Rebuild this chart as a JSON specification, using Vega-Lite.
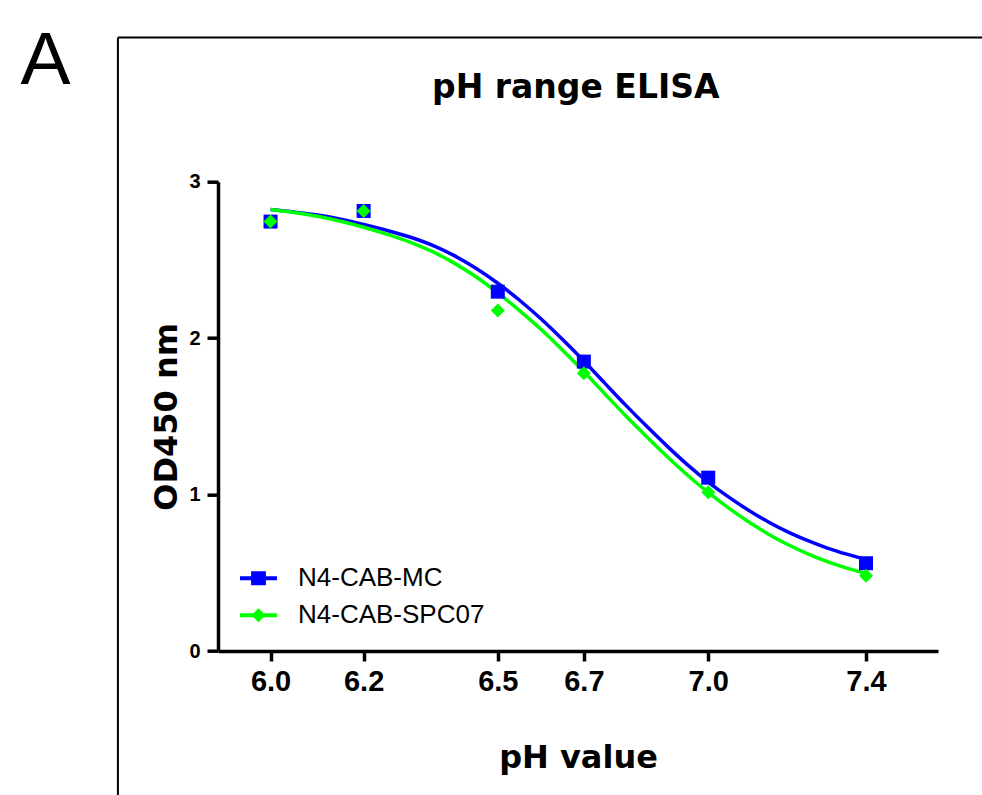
{
  "$schema": "https://vega.github.io/schema/vega-lite/v6.json",
  "width": 720,
  "height": 469.3,
  "autosize": {"type": "none"},
  "padding": {"left": 218, "top": 181.7, "right": 44, "bottom": 144},
  "background": "white",
  "config": {
    "view": {"stroke": null},
    "font": "Liberation Sans",
    "axis": {"domainColor": "black", "tickColor": "black", "labelColor": "black", "titleColor": "black", "grid": false}
  },
  "datasets": {
    "curves": [
      {"series": "N4-CAB-MC", "ph": 6.00, "od": 2.822},
      {"series": "N4-CAB-MC", "ph": 6.05, "od": 2.806},
      {"series": "N4-CAB-MC", "ph": 6.10, "od": 2.787},
      {"series": "N4-CAB-MC", "ph": 6.15, "od": 2.760},
      {"series": "N4-CAB-MC", "ph": 6.20, "od": 2.727},
      {"series": "N4-CAB-MC", "ph": 6.25, "od": 2.690},
      {"series": "N4-CAB-MC", "ph": 6.30, "od": 2.648},
      {"series": "N4-CAB-MC", "ph": 6.35, "od": 2.596},
      {"series": "N4-CAB-MC", "ph": 6.40, "od": 2.529},
      {"series": "N4-CAB-MC", "ph": 6.45, "od": 2.447},
      {"series": "N4-CAB-MC", "ph": 6.50, "od": 2.351},
      {"series": "N4-CAB-MC", "ph": 6.55, "od": 2.242},
      {"series": "N4-CAB-MC", "ph": 6.60, "od": 2.122},
      {"series": "N4-CAB-MC", "ph": 6.65, "od": 1.991},
      {"series": "N4-CAB-MC", "ph": 6.70, "od": 1.854},
      {"series": "N4-CAB-MC", "ph": 6.75, "od": 1.711},
      {"series": "N4-CAB-MC", "ph": 6.80, "od": 1.570},
      {"series": "N4-CAB-MC", "ph": 6.85, "od": 1.436},
      {"series": "N4-CAB-MC", "ph": 6.90, "od": 1.308},
      {"series": "N4-CAB-MC", "ph": 6.95, "od": 1.188},
      {"series": "N4-CAB-MC", "ph": 7.00, "od": 1.080},
      {"series": "N4-CAB-MC", "ph": 7.05, "od": 0.985},
      {"series": "N4-CAB-MC", "ph": 7.10, "od": 0.900},
      {"series": "N4-CAB-MC", "ph": 7.15, "od": 0.825},
      {"series": "N4-CAB-MC", "ph": 7.20, "od": 0.760},
      {"series": "N4-CAB-MC", "ph": 7.25, "od": 0.705},
      {"series": "N4-CAB-MC", "ph": 7.30, "od": 0.658},
      {"series": "N4-CAB-MC", "ph": 7.35, "od": 0.619},
      {"series": "N4-CAB-MC", "ph": 7.40, "od": 0.585},
      {"series": "N4-CAB-SPC07", "ph": 6.00, "od": 2.822},
      {"series": "N4-CAB-SPC07", "ph": 6.05, "od": 2.803},
      {"series": "N4-CAB-SPC07", "ph": 6.10, "od": 2.779},
      {"series": "N4-CAB-SPC07", "ph": 6.15, "od": 2.747},
      {"series": "N4-CAB-SPC07", "ph": 6.20, "od": 2.709},
      {"series": "N4-CAB-SPC07", "ph": 6.25, "od": 2.665},
      {"series": "N4-CAB-SPC07", "ph": 6.30, "od": 2.616},
      {"series": "N4-CAB-SPC07", "ph": 6.35, "od": 2.556},
      {"series": "N4-CAB-SPC07", "ph": 6.40, "od": 2.481},
      {"series": "N4-CAB-SPC07", "ph": 6.45, "od": 2.392},
      {"series": "N4-CAB-SPC07", "ph": 6.50, "od": 2.289},
      {"series": "N4-CAB-SPC07", "ph": 6.55, "od": 2.176},
      {"series": "N4-CAB-SPC07", "ph": 6.60, "od": 2.055},
      {"series": "N4-CAB-SPC07", "ph": 6.65, "od": 1.923},
      {"series": "N4-CAB-SPC07", "ph": 6.70, "od": 1.786},
      {"series": "N4-CAB-SPC07", "ph": 6.75, "od": 1.643},
      {"series": "N4-CAB-SPC07", "ph": 6.80, "od": 1.502},
      {"series": "N4-CAB-SPC07", "ph": 6.85, "od": 1.370},
      {"series": "N4-CAB-SPC07", "ph": 6.90, "od": 1.242},
      {"series": "N4-CAB-SPC07", "ph": 6.95, "od": 1.122},
      {"series": "N4-CAB-SPC07", "ph": 7.00, "od": 1.014},
      {"series": "N4-CAB-SPC07", "ph": 7.05, "od": 0.915},
      {"series": "N4-CAB-SPC07", "ph": 7.10, "od": 0.826},
      {"series": "N4-CAB-SPC07", "ph": 7.15, "od": 0.747},
      {"series": "N4-CAB-SPC07", "ph": 7.20, "od": 0.679},
      {"series": "N4-CAB-SPC07", "ph": 7.25, "od": 0.621},
      {"series": "N4-CAB-SPC07", "ph": 7.30, "od": 0.571},
      {"series": "N4-CAB-SPC07", "ph": 7.35, "od": 0.530},
      {"series": "N4-CAB-SPC07", "ph": 7.40, "od": 0.495}
    ],
    "points": [
      {"series": "N4-CAB-MC", "ph": 6.0, "od": 2.745},
      {"series": "N4-CAB-MC", "ph": 6.2, "od": 2.813},
      {"series": "N4-CAB-MC", "ph": 6.5, "od": 2.297},
      {"series": "N4-CAB-MC", "ph": 6.7, "od": 1.850},
      {"series": "N4-CAB-MC", "ph": 7.0, "od": 1.108},
      {"series": "N4-CAB-MC", "ph": 7.4, "od": 0.561},
      {"series": "N4-CAB-SPC07", "ph": 6.0, "od": 2.745},
      {"series": "N4-CAB-SPC07", "ph": 6.2, "od": 2.813},
      {"series": "N4-CAB-SPC07", "ph": 6.5, "od": 2.176},
      {"series": "N4-CAB-SPC07", "ph": 6.7, "od": 1.776},
      {"series": "N4-CAB-SPC07", "ph": 7.0, "od": 1.015},
      {"series": "N4-CAB-SPC07", "ph": 7.4, "od": 0.481}
    ]
  },
  "layer": [
    {
      "data": {"values": [{}]},
      "mark": {"type": "rule", "color": "black", "strokeWidth": 2, "clip": false},
      "encoding": {
        "x": {"datum": 5.686, "type": "quantitative"},
        "y": {"datum": 3.921, "type": "quantitative"},
        "y2": {"datum": -1.5}
      }
    },
    {
      "data": {"values": [{}]},
      "mark": {"type": "rule", "color": "black", "strokeWidth": 2, "clip": false},
      "encoding": {
        "x": {"datum": 5.686, "type": "quantitative"},
        "x2": {"datum": 8.0},
        "y": {"datum": 3.921, "type": "quantitative"}
      }
    },
    {
      "data": {"values": [{}]},
      "mark": {"type": "text", "text": "A", "font": "Liberation Sans", "fontSize": 75, "fontWeight": "normal", "color": "black", "align": "center", "baseline": "alphabetic", "clip": false},
      "encoding": {
        "x": {"datum": 5.543, "type": "quantitative"},
        "y": {"datum": 3.625, "type": "quantitative"}
      }
    },
    {
      "data": {"values": [{}]},
      "mark": {"type": "text", "text": "pH range ELISA", "font": "DejaVu Sans", "fontSize": 33, "fontWeight": "bold", "color": "black", "align": "center", "baseline": "alphabetic", "clip": false},
      "encoding": {
        "x": {"datum": 6.681, "type": "quantitative"},
        "y": {"datum": 3.535, "type": "quantitative"}
      }
    },
    {
      "data": {"name": "curves"},
      "transform": [{"filter": "datum.series === 'N4-CAB-MC'"}],
      "mark": {"type": "line", "strokeWidth": 3.5, "interpolate": "monotone", "color": "#0000FF"},
      "encoding": {
        "x": {
          "field": "ph", "type": "quantitative",
          "scale": {"type": "log", "domain": [5.89, 7.59], "nice": false, "zero": false},
          "axis": {
            "title": "pH value",
            "values": [6.0, 6.2, 6.5, 6.7, 7.0, 7.4],
            "format": ".1f",
            "labelFont": "Liberation Sans",
            "labelFontSize": 29,
            "labelFontWeight": "bold",
            "labelPadding": 6,
            "labelFlush": false,
            "labelOverlap": false,
            "domainWidth": 3.5,
            "tickWidth": 3.5,
            "tickSize": 10,
            "titleFont": "DejaVu Sans",
            "titleFontSize": 32,
            "titleFontWeight": "bold",
            "titlePadding": 46
          }
        },
        "y": {
          "field": "od", "type": "quantitative",
          "scale": {"domain": [0, 3], "nice": false},
          "axis": {
            "title": "OD450 nm",
            "values": [0, 1, 2, 3],
            "format": "d",
            "labelFont": "Liberation Sans",
            "labelFontSize": 20,
            "labelFontWeight": "bold",
            "labelPadding": 7,
            "labelFlush": false,
            "domainWidth": 3.5,
            "tickWidth": 3.5,
            "tickSize": 11,
            "titleFont": "DejaVu Sans",
            "titleFontSize": 32,
            "titleFontWeight": "bold",
            "titlePadding": 5
          }
        }
      }
    },
    {
      "data": {"name": "curves"},
      "transform": [{"filter": "datum.series === 'N4-CAB-SPC07'"}],
      "mark": {"type": "line", "strokeWidth": 3.5, "interpolate": "monotone", "color": "#00FF00"},
      "encoding": {
        "x": {"field": "ph", "type": "quantitative"},
        "y": {"field": "od", "type": "quantitative"}
      }
    },
    {
      "data": {"name": "points"},
      "transform": [{"filter": "datum.series === 'N4-CAB-MC'"}],
      "mark": {"type": "point", "filled": true, "size": 196, "opacity": 1, "shape": "square", "color": "#0000FF"},
      "encoding": {
        "x": {"field": "ph", "type": "quantitative"},
        "y": {"field": "od", "type": "quantitative"}
      }
    },
    {
      "data": {"name": "points"},
      "transform": [{"filter": "datum.series === 'N4-CAB-SPC07'"}],
      "mark": {"type": "point", "filled": true, "size": 196, "opacity": 1, "shape": "diamond", "color": "#00FF00"},
      "encoding": {
        "x": {"field": "ph", "type": "quantitative"},
        "y": {"field": "od", "type": "quantitative"}
      }
    },
    {
      "data": {"name": "points"},
      "transform": [{"filter": "datum.ph > 100"}],
      "mark": {"type": "point", "filled": true, "opacity": 1},
      "encoding": {
        "x": {"field": "ph", "type": "quantitative"},
        "y": {"field": "od", "type": "quantitative"},
        "color": {
          "field": "series", "type": "nominal",
          "scale": {"domain": ["N4-CAB-MC", "N4-CAB-SPC07"], "range": ["#0000FF", "#00FF00"]},
          "legend": {
            "orient": "none",
            "legendX": 22,
            "legendY": 378,
            "title": null,
            "padding": 0,
            "symbolSize": 1369,
            "symbolStrokeWidth": 0,
            "symbolOpacity": 1,
            "labelFont": "Liberation Sans",
            "labelFontSize": 26,
            "labelColor": "black",
            "labelOffset": 21,
            "rowPadding": 5,
            "labelLimit": 400
          }
        },
        "shape": {
          "field": "series", "type": "nominal",
          "scale": {
            "domain": ["N4-CAB-MC", "N4-CAB-SPC07"],
            "range": [
              "M-1,-0.11L1,-0.11L1,0.11L-1,0.11Z M-0.4,-0.38L0.4,-0.38L0.4,0.38L-0.4,0.38Z",
              "M-1,-0.11L1,-0.11L1,0.11L-1,0.11Z M-0.38,0L0,-0.38L0.38,0L0,0.38Z"
            ]
          },
          "legend": {
            "orient": "none",
            "legendX": 22,
            "legendY": 378,
            "title": null,
            "padding": 0,
            "symbolSize": 1369,
            "symbolStrokeWidth": 0,
            "symbolOpacity": 1,
            "labelFont": "Liberation Sans",
            "labelFontSize": 26,
            "labelColor": "black",
            "labelOffset": 21,
            "rowPadding": 5,
            "labelLimit": 400
          }
        }
      }
    }
  ]
}
